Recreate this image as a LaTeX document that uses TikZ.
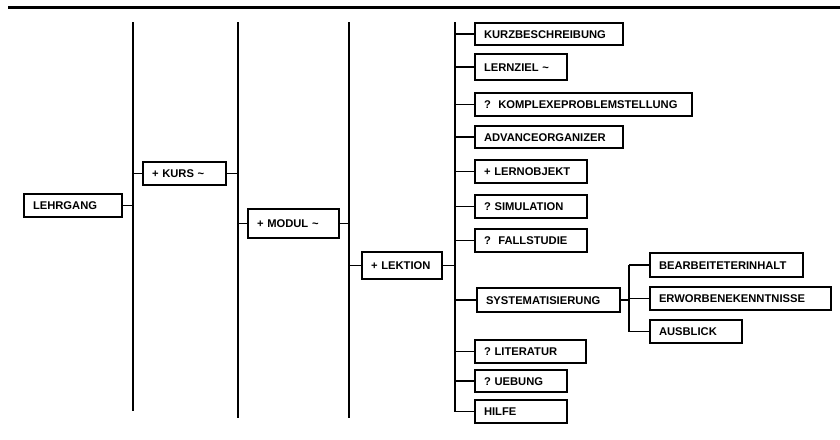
\documentclass[tikz,border=0pt]{standalone}
\usepackage{fontspec}
\setmainfont{Liberation Sans}
\begin{document}
\frenchspacing
\begin{tikzpicture}[x=1pt,y=-1pt,
  bx/.style={draw, line width=1.4pt, inner xsep=9pt, inner ysep=0pt,
    text height=8pt, text depth=0pt, align=left,
    font=\frenchspacing\bfseries\fontsize{11.2}{13}\selectfont},
  conn/.style={line width=1.2pt},
  vline/.style={line width=1.4pt},
  rule/.style={line width=2.6pt}]
\useasboundingbox (0,0) rectangle (840,439);
% top rule
\coordinate (r0) at (8,7.5);
\coordinate (r1) at (840,7.5);
\draw[rule] (r0) -- (r1);
% vertical lines
\coordinate (v1t) at (133,22);  \coordinate (v1b) at (133,411);
\coordinate (v2t) at (238,22);  \coordinate (v2b) at (238,418);
\coordinate (v3t) at (349,22);  \coordinate (v3b) at (349,418);
\coordinate (v4t) at (455,22);  \coordinate (v4b) at (455,411.5);
\coordinate (v5t) at (629,265); \coordinate (v5b) at (629,331.5);
\foreach \a/\b in {v1t/v1b,v2t/v2b,v3t/v3b,v4t/v4b,v5t/v5b}
  \draw[vline] (\a) -- (\b);
% boxes
\node[bx, text width=80pt, minimum height=23pt] (leh) at (73,205.5) {LEHRGANG};
\node[bx, text width=65pt, minimum height=23pt] (kurs) at (184.5,173.5) {+ KURS \textasciitilde};
\node[bx, text width=73pt, minimum height=29pt] (mod) at (293.5,223.5) {+ MODUL \textasciitilde};
\node[bx, text width=62pt, minimum height=27pt] (lek) at (402,265.5) {+ LEKTION};
\node[bx, text width=130pt, minimum height=22pt] (kurz) at (549,34) {KURZBESCHREIBUNG};
\node[bx, text width=74pt, minimum height=26pt] (lz) at (521,67) {LERNZIEL \textasciitilde};
\node[bx, text width=199pt, minimum height=23pt] (kp) at (583.5,104.5) {?\ \ KOMPLEXEPROBLEMSTELLUNG};
\node[bx, text width=130pt, minimum height=22pt] (adv) at (549,137) {ADVANCEORGANIZER};
\node[bx, text width=94pt, minimum height=23pt] (lo) at (531,171.5) {+ LERNOBJEKT};
\node[bx, text width=94pt, minimum height=23pt] (sim) at (531,206.5) {? SIMULATION};
\node[bx, text width=94pt, minimum height=23pt] (fs) at (531,240.5) {?\ \ FALLSTUDIE};
\node[bx, text width=125pt, minimum height=24pt] (sys) at (548.5,300) {SYSTEMATISIERUNG};
\node[bx, text width=135pt, minimum height=24pt] (bi) at (726.5,265) {BEARBEITETERINHALT};
\node[bx, text width=163pt, minimum height=23pt] (ek) at (740.5,298.5) {ERWORBENEKENNTNISSE};
\node[bx, text width=74pt, minimum height=23pt] (ab) at (696,331.5) {AUSBLICK};
\node[bx, text width=93pt, minimum height=23pt] (lit) at (530.5,351.5) {? LITERATUR};
\node[bx, text width=74pt, minimum height=22pt] (ueb) at (521,381) {? UEBUNG};
\node[bx, text width=74pt, minimum height=23pt] (hil) at (521,411.5) {HILFE};
% connectors
\draw[conn] (leh.east) -- (leh.east -| v1t);
\draw[conn] (kurs.west) -- (kurs.west -| v1t);
\draw[conn] (kurs.east) -- (kurs.east -| v2t);
\draw[conn] (mod.west) -- (mod.west -| v2t);
\draw[conn] (mod.east) -- (mod.east -| v3t);
\draw[conn] (lek.west) -- (lek.west -| v3t);
\draw[conn] (lek.east) -- (lek.east -| v4t);
\foreach \n in {kurz,lz,kp,adv,lo,sim,fs,sys,lit,ueb,hil}
  \draw[conn] (\n.west) -- (\n.west -| v4t);
\draw[conn] (sys.east) -- (sys.east -| v5t);
\foreach \n in {bi,ek,ab}
  \draw[conn] (\n.west) -- (\n.west -| v5t);
\end{tikzpicture}
\end{document}
